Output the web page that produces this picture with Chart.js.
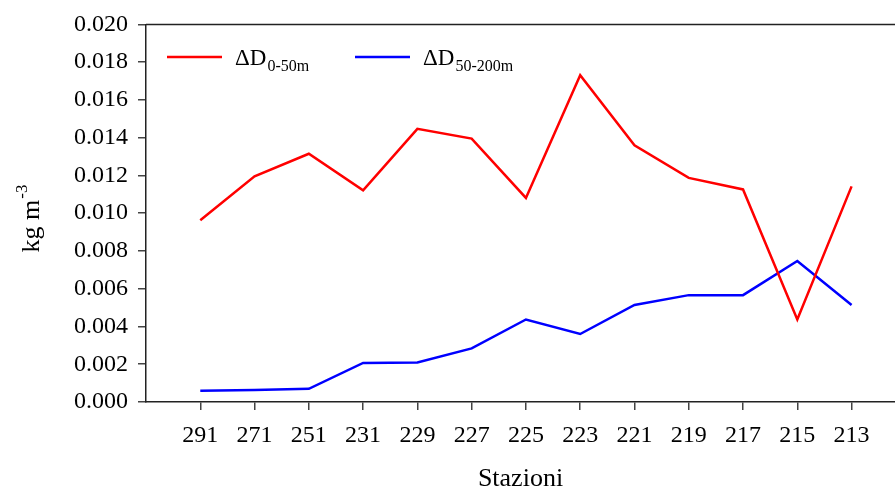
<!DOCTYPE html>
<html>
<head>
<meta charset="utf-8">
<script src="https://cdn.jsdelivr.net/npm/chart.js@4.4.1/dist/chart.umd.min.js"></script>
<style>
  html, body { margin: 0; padding: 0; background: #fff; }
  #wrap { width: 895px; height: 490px; position: relative; }
</style>
</head>
<body>
<div id="wrap"><canvas id="chart" width="895" height="490"></canvas></div>
<script>
// --- DATA ---
const stations = ['291', '271', '251', '231', '229', '227', '225', '223', '221', '219', '217', '215', '213'];
const delta0to50 = [0.00963, 0.01195, 0.01315, 0.01121, 0.01447, 0.01395, 0.01081, 0.01731, 0.01360, 0.01187, 0.01126, 0.00437, 0.01142];
const delta50to200 = [0.00059, 0.00064, 0.00070, 0.00207, 0.00209, 0.00284, 0.00437, 0.00360, 0.00514, 0.00566, 0.00566, 0.00747, 0.00514];
const yTicks = [0, 0.002, 0.004, 0.006, 0.008, 0.010, 0.012, 0.014, 0.016, 0.018, 0.020];

const legendItems = [
    { main: 'ΔD', sub: '0-50m', color: '#ff0000' },
    { main: 'ΔD', sub: '50-200m', color: '#0000ff' }
];

const SERIF = "'Liberation Serif', 'Times New Roman', serif";

// --- EXTRA DRAWING: top border, y title with superscript, legend with subscripts ---
const decorations = {
    id: 'decorations',
    afterDraw(chart) {
        const { ctx, chartArea } = chart;
        ctx.save();

        // top frame line
        ctx.strokeStyle = '#222';
        ctx.lineWidth = 1.5;
        ctx.beginPath();
        ctx.moveTo(chartArea.left, chartArea.top);
        ctx.lineTo(chartArea.right, chartArea.top);
        ctx.stroke();

        // y axis title "kg m-3"
        ctx.fillStyle = '#000';
        ctx.translate(39, 219);
        ctx.rotate(-Math.PI / 2);
        ctx.font = `26px ${SERIF}`;
        ctx.textBaseline = 'alphabetic';
        const mainW = ctx.measureText('kg m').width;
        ctx.font = `17px ${SERIF}`;
        const supW = ctx.measureText('-3').width;
        const startX = -(mainW + supW) / 2;
        ctx.font = `26px ${SERIF}`;
        ctx.textAlign = 'left';
        ctx.fillText('kg m', startX, 0);
        ctx.font = `17px ${SERIF}`;
        ctx.fillText('-3', startX + mainW + 1, -12);
        ctx.setTransform(1, 0, 0, 1, 0, 0);

        // legend
        const lx = [167, 355];
        legendItems.forEach((item, i) => {
            const x = lx[i], y = 57;
            ctx.strokeStyle = item.color;
            ctx.lineWidth = 2.5;
            ctx.beginPath();
            ctx.moveTo(x, y);
            ctx.lineTo(x + 55, y);
            ctx.stroke();
            ctx.fillStyle = '#000';
            ctx.textAlign = 'left';
            ctx.textBaseline = 'alphabetic';
            ctx.font = `23px ${SERIF}`;
            ctx.fillText(item.main, x + 68, 65);
            const w = ctx.measureText(item.main).width;
            ctx.font = `16px ${SERIF}`;
            ctx.fillText(item.sub, x + 68 + w + 1, 71);
        });
        ctx.restore();
    }
};

const toPoints = arr => arr.map((v, i) => ({ x: i, y: v }));

new Chart(document.getElementById('chart'), {
    type: 'line',
    data: {
        datasets: [
            { label: 'ΔD 0-50m', data: toPoints(delta0to50), borderColor: '#ff0000', borderWidth: 2.5, pointRadius: 0, tension: 0, fill: false },
            { label: 'ΔD 50-200m', data: toPoints(delta50to200), borderColor: '#0000ff', borderWidth: 2.5, pointRadius: 0, tension: 0, fill: false }
        ]
    },
    options: {
        responsive: false, animation: false, maintainAspectRatio: false,
        layout: { padding: { top: 22, right: 0, left: 0, bottom: 0 } },
        plugins: { legend: { display: false }, tooltip: { enabled: false } },
        scales: {
            x: {
                type: 'linear', min: -1, max: 12.8,
                afterBuildTicks: s => { s.ticks = stations.map((_, i) => ({ value: i })); },
                afterFit: s => { s.height = 88; },
                ticks: { callback: v => stations[v], color: '#000', font: { family: SERIF, size: 24 }, padding: 11, maxRotation: 0, autoSkip: false },
                grid: { drawOnChartArea: false, drawTicks: true, tickLength: 8, color: '#444', lineWidth: 1.5 },
                border: { display: true, color: '#222', width: 1.5 },
                title: { display: true, text: 'Stazioni', color: '#000', font: { family: SERIF, size: 26, lineHeight: 0.8 }, padding: { top: 0, bottom: 0 } }
            },
            y: {
                min: 0, max: 0.02,
                afterBuildTicks: s => { s.ticks = yTicks.map(v => ({ value: v })); },
                afterFit: s => { s.width = 146; },
                ticks: { callback: v => v.toFixed(3), color: '#000', font: { family: SERIF, size: 24 }, padding: 10 },
                grid: { drawOnChartArea: false, drawTicks: true, tickLength: 8, color: '#444', lineWidth: 1.5 },
                border: { display: true, color: '#222', width: 1.5 }
            }
        }
    },
    plugins: [decorations]
});
</script>
</body>
</html>
